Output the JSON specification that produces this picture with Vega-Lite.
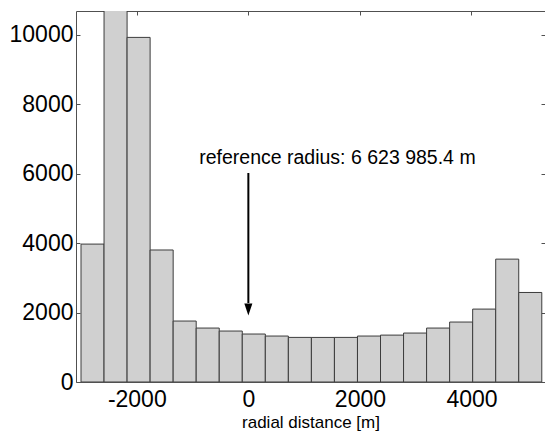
{
  "$schema": "https://vega.github.io/schema/vega-lite/v6.json",
  "autosize": {"type": "none"},
  "padding": {"left": 76, "top": 11, "right": 0, "bottom": 49},
  "width": 469,
  "height": 371,
  "background": "white",
  "config": {
    "view": {"stroke": null},
    "font": "Liberation Sans",
    "axis": {
      "labelFont": "Liberation Sans",
      "labelColor": "#000000",
      "titleFont": "Liberation Sans",
      "titleColor": "#000000",
      "titleFontWeight": "normal",
      "domainColor": "#505050",
      "tickColor": "#505050",
      "grid": false,
      "format": "d"
    }
  },
  "datasets": {
    "hist": [
      {"bin_start": -3000, "bin_end": -2587, "count": 3970},
      {"bin_start": -2587, "bin_end": -2174, "count": 11200},
      {"bin_start": -2174, "bin_end": -1761, "count": 9920},
      {"bin_start": -1761, "bin_end": -1348, "count": 3800},
      {"bin_start": -1348, "bin_end": -935, "count": 1755},
      {"bin_start": -935, "bin_end": -522, "count": 1553},
      {"bin_start": -522, "bin_end": -109, "count": 1467},
      {"bin_start": -109, "bin_end": 304, "count": 1381},
      {"bin_start": 304, "bin_end": 717, "count": 1323},
      {"bin_start": 717, "bin_end": 1130, "count": 1284},
      {"bin_start": 1130, "bin_end": 1543, "count": 1283},
      {"bin_start": 1543, "bin_end": 1956, "count": 1284},
      {"bin_start": 1956, "bin_end": 2369, "count": 1323},
      {"bin_start": 2369, "bin_end": 2782, "count": 1350},
      {"bin_start": 2782, "bin_end": 3195, "count": 1409},
      {"bin_start": 3195, "bin_end": 3608, "count": 1553},
      {"bin_start": 3608, "bin_end": 4021, "count": 1726},
      {"bin_start": 4021, "bin_end": 4434, "count": 2099},
      {"bin_start": 4434, "bin_end": 4847, "count": 3537},
      {"bin_start": 4847, "bin_end": 5260, "count": 2577}
    ],
    "arrow": [{"x": 0, "y_top": 6017, "y_bottom": 2274, "head_y": 2090}],
    "note": [{"x": -881, "y": 6264, "label": "reference radius: 6 623 985.4 m"}]
  },
  "layer": [
    {
      "data": {"name": "hist"},
      "mark": {"type": "bar", "fill": "#d0d0d0", "stroke": "#3c3c3c", "strokeWidth": 1, "clip": true, "orient": "vertical"},
      "encoding": {
        "x": {
          "field": "bin_start", "type": "quantitative",
          "scale": {"domain": [-3000, 5228], "nice": false, "zero": false},
          "axis": {
            "orient": "bottom", "values": [-2000, 0, 2000, 4000],
            "labelExpr": "datum.value < 0 ? '-' + abs(datum.value) : '' + datum.value",
            "title": "radial distance [m]", "titleFontSize": 17,
            "titleBaseline": "alphabetic", "titleY": 45,
            "labelFontSize": 23, "labelPadding": 10, "tickSize": -4,
            "labelFlush": false, "labelOverlap": false
          }
        },
        "x2": {"field": "bin_end"},
        "y": {
          "field": "count", "type": "quantitative",
          "scale": {"domain": [0, 10680], "nice": false},
          "axis": {
            "orient": "left", "values": [0, 2000, 4000, 6000, 8000, 10000], "format": "d",
            "title": null, "labelFontSize": 23, "labelPadding": 7, "tickSize": -4,
            "labelFlush": false, "labelOverlap": false
          }
        },
        "y2": {"datum": 0}
      }
    },
    {
      "data": {"name": "hist"},
      "mark": {"type": "bar", "opacity": 0, "clip": true, "orient": "vertical"},
      "encoding": {
        "x": {
          "field": "bin_start", "type": "quantitative",
          "axis": {"orient": "top", "values": [-2000, 0, 2000, 4000], "labels": false, "title": null, "tickSize": -4}
        },
        "x2": {"field": "bin_end"},
        "y": {
          "field": "count", "type": "quantitative",
          "axis": {"orient": "right", "values": [0, 2000, 4000, 6000, 8000, 10000], "labels": false, "title": null, "tickSize": -4, "domain": false}
        },
        "y2": {"datum": 0}
      }
    },
    {
      "data": {"name": "arrow"},
      "mark": {"type": "rule", "color": "#000000", "strokeWidth": 2},
      "encoding": {
        "x": {"field": "x", "type": "quantitative", "axis": null},
        "y": {"field": "y_top", "type": "quantitative", "axis": null},
        "y2": {"field": "y_bottom"}
      }
    },
    {
      "data": {"name": "arrow"},
      "mark": {"type": "point", "shape": "M-0.67,-1L0.67,-1L0,1Z", "size": 144, "filled": true, "color": "#000000", "opacity": 1},
      "encoding": {
        "x": {"field": "x", "type": "quantitative", "axis": null},
        "y": {"field": "head_y", "type": "quantitative", "axis": null}
      }
    },
    {
      "data": {"name": "note"},
      "mark": {"type": "text", "align": "left", "baseline": "alphabetic", "fontSize": 19.5, "font": "Liberation Sans", "color": "#000000"},
      "encoding": {
        "x": {"field": "x", "type": "quantitative", "axis": null},
        "y": {"field": "y", "type": "quantitative", "axis": null},
        "text": {"field": "label"}
      }
    }
  ],
  "resolve": {"axis": {"x": "independent", "y": "independent"}}
}
